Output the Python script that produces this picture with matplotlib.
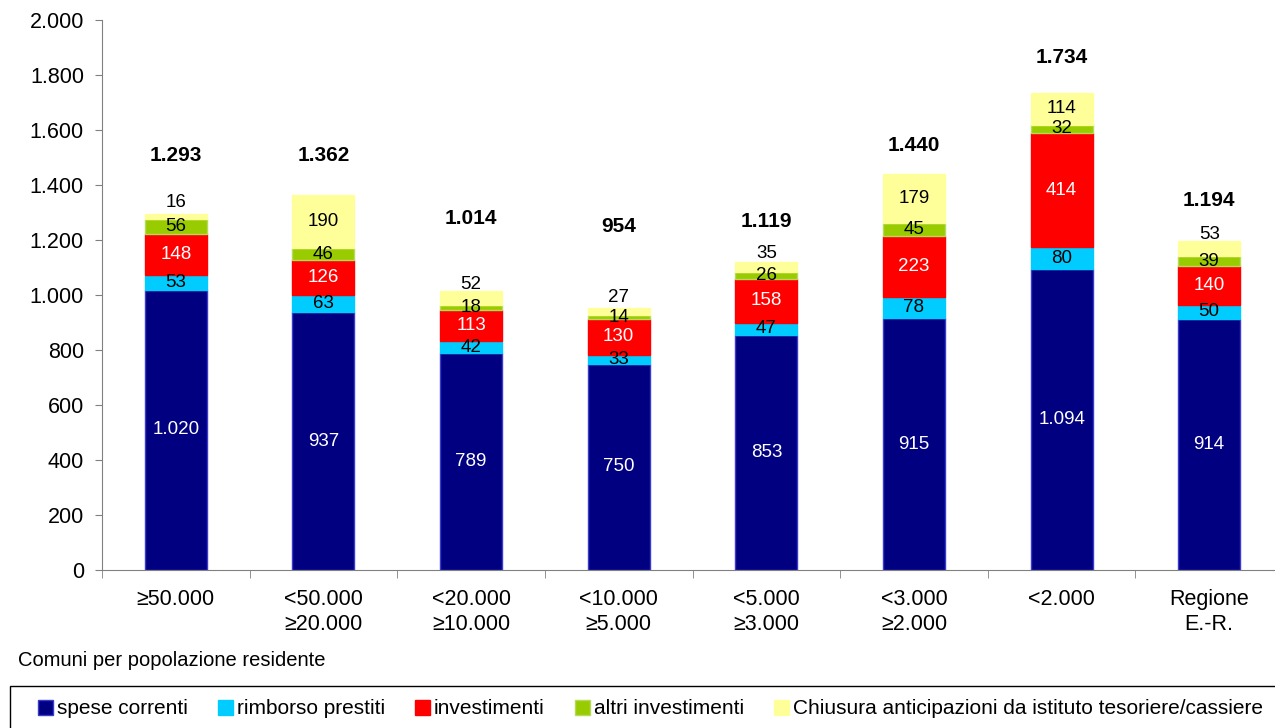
import matplotlib.pyplot as plt
from matplotlib.patches import Patch, Rectangle
import numpy as np

plt.rcParams['font.family'] = ['Liberation Sans', 'DejaVu Sans']

# categories and values
categories = ['≥50.000', '<50.000\n≥20.000', '<20.000\n≥10.000', '<10.000\n≥5.000',
              '<5.000\n≥3.000', '<3.000\n≥2.000', '<2.000', 'Regione\nE.-R.']
spese_correnti = [1020, 937, 789, 750, 853, 915, 1094, 914]
rimborso_prestiti = [53, 63, 42, 33, 47, 78, 80, 50]
investimenti = [148, 126, 113, 130, 158, 223, 414, 140]
altri_investimenti = [56, 46, 18, 14, 26, 45, 32, 39]
chiusura = [16, 190, 52, 27, 35, 179, 114, 53]
totali = [1293, 1362, 1014, 954, 1119, 1440, 1734, 1194]
totali_label_y = [1509, 1509, 1280, 1250, 1268, 1545, 1865, 1345]

series = [
    ('spese correnti', spese_correnti, '#000080', '#3a3ad0', 'white'),
    ('rimborso prestiti', rimborso_prestiti, '#00CCFF', '#00CCFF', 'black'),
    ('investimenti', investimenti, '#FF0000', '#FF0000', 'white'),
    ('altri investimenti', altri_investimenti, '#99CC00', '#b5da5a', 'black'),
    ('Chiusura anticipazioni da istituto tesoriere/cassiere', chiusura, '#FFFF99', '#FFFF99', 'black'),
]

fig = plt.figure(figsize=(12.75, 7.28), dpi=100)
ax = fig.add_axes([102/1275, 1 - 570/728, 1181/1275, 550/728])

x = np.arange(len(categories))
bottom = np.zeros(len(categories))
for i, (name, vals, color, edge, tcol) in enumerate(series):
    vals = np.array(vals, dtype=float)
    ax.bar(x, vals, 0.42, bottom=bottom, color=color, edgecolor=edge, linewidth=1, zorder=2)
    for xi, b, v in zip(x, bottom, vals):
        txt = f'{int(v):,}'.replace(',', '.')
        yc = b + v / 2
        dy = 0
        if i == 4 and v < 60:
            dy = 10
        ax.annotate(txt, (xi, yc), xytext=(0, dy), textcoords='offset points',
                    ha='center', va='center', fontsize=13.5, color=tcol, zorder=3)
    bottom += vals

for xi, t, ly in zip(x, totali, totali_label_y):
    ax.text(xi, ly, f'{t:,}'.replace(',', '.'), ha='center', va='center',
            fontsize=15, fontweight='bold', zorder=3)

ax.set_xlim(-0.5, len(categories) - 0.5)
ax.set_ylim(0, 2000)
ax.set_yticks(np.arange(0, 2001, 200))
ax.set_yticklabels([f'{v:,}'.replace(',', '.') for v in range(0, 2001, 200)], fontsize=15.5)
ax.set_yticks(np.arange(200, 2001, 200), minor=True)
ax.yaxis.grid(True, which='minor', linestyle=(0, (4, 3)), color='black', linewidth=1, zorder=0)
ax.tick_params(axis='y', which='minor', length=0)
ax.set_axisbelow(True)

ax.set_xticks(x)
ax.set_xticklabels(categories, fontsize=15.5, va='top', linespacing=1.2)
ax.set_xticks(np.arange(-0.5, len(categories)), minor=True)
ax.tick_params(axis='x', which='major', length=0, pad=14)
ax.tick_params(axis='x', which='minor', length=6, color='#808080', direction='out')
ax.tick_params(axis='y', which='major', length=5, color='#808080', direction='out', pad=8)

for s in ['top', 'right']:
    ax.spines[s].set_visible(False)
ax.spines['left'].set_color('#808080')
ax.spines['bottom'].set_color('#808080')

fig.text(18/1275, 1 - 660/728, 'Comuni per popolazione residente', fontsize=14.5,
         ha='left', va='center')

fig.patches.append(Rectangle((10/1275, -0.05), 1.1, (0.05 + (728 - 686)/728),
                             transform=fig.transFigure, facecolor='none',
                             edgecolor='black', linewidth=1))
handles = [Patch(facecolor=c, edgecolor=e, label=n) for n, _, c, e, _ in series]
fig.legend(handles=handles, loc='center left', bbox_to_anchor=(30/1275, 1 - 709/728),
           ncol=5, frameon=False, fontsize=15, handlelength=0.7, handleheight=0.7,
           handletextpad=0.2, columnspacing=1.45, borderaxespad=0)

fig.savefig('out.png', dpi=100)
